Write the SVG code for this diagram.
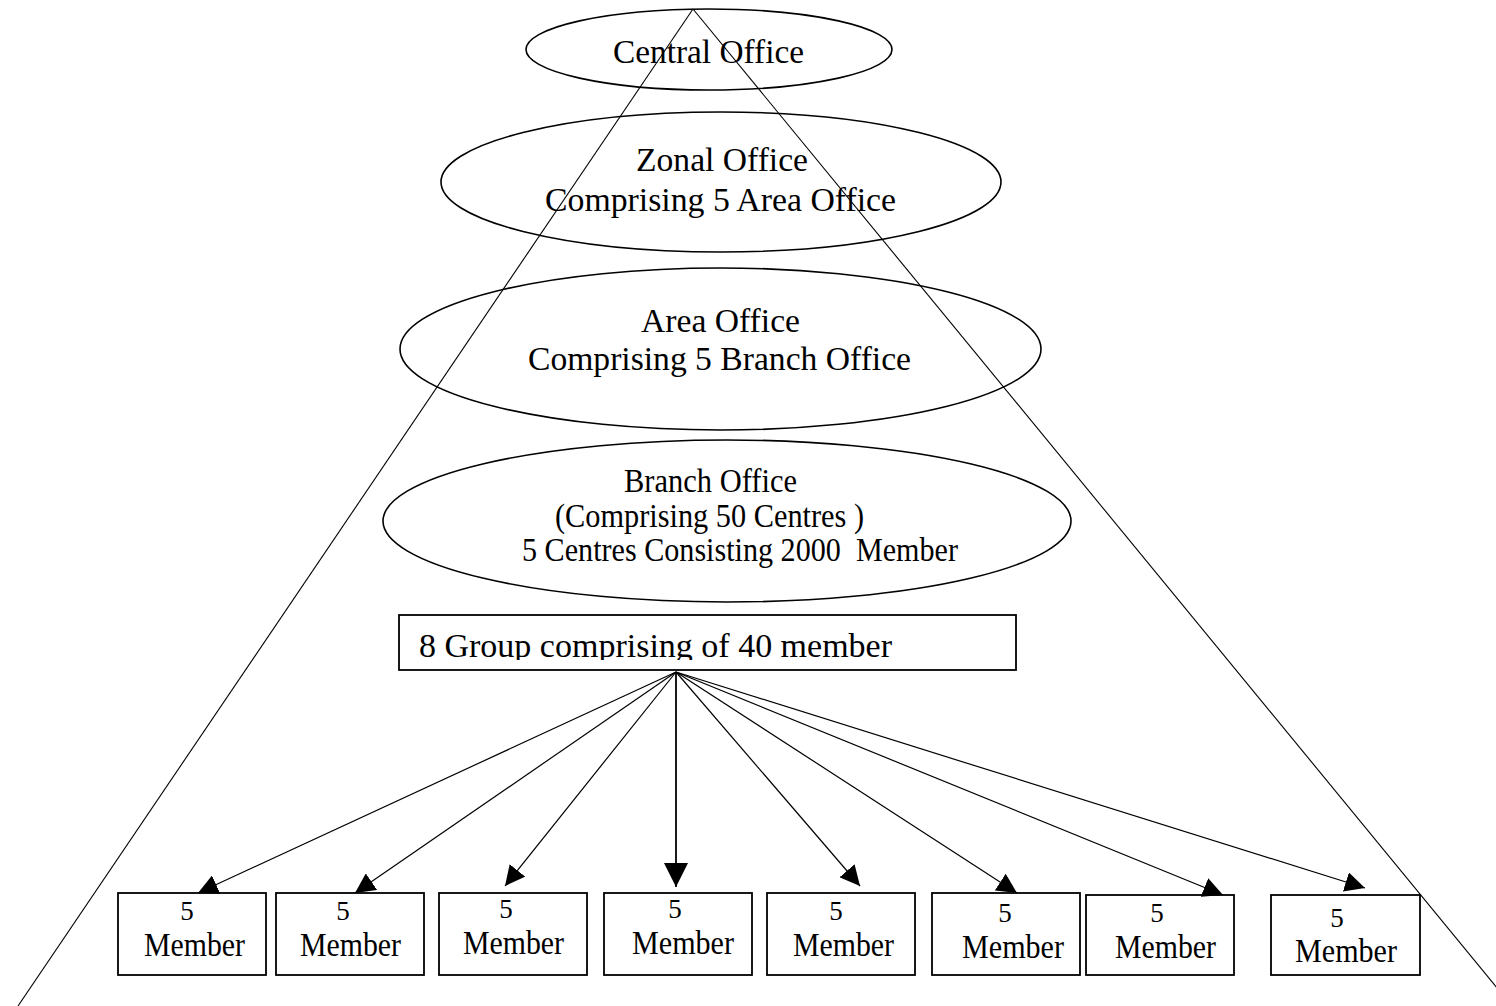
<svg xmlns="http://www.w3.org/2000/svg" width="1496" height="1006" viewBox="0 0 1496 1006">
  <style>
    .shape { fill: none; stroke: #000; stroke-width: 1.6; }
    .box { fill: #fff; stroke: #000; stroke-width: 1.8; }
    .guide { fill: none; stroke: #000; stroke-width: 1.1; }
    .link { fill: none; stroke: #000; stroke-width: 1.2; marker-end: url(#head); }
    .link.main { stroke-width: 1.8; marker-end: url(#headBig); }
    .lbl { font-family: "Liberation Serif", "Times New Roman", serif; font-size: 34px; fill: #000; }
    .mem { font-family: "Liberation Serif", "Times New Roman", serif; font-size: 33px; fill: #000; }
    .num { font-family: "Liberation Serif", "Times New Roman", serif; font-size: 27px; fill: #000; text-anchor: middle; }
  </style>
  <defs>
    <marker id="head" viewBox="0 0 20 20" refX="20" refY="10" markerWidth="20" markerHeight="20" markerUnits="userSpaceOnUse" orient="auto">
      <path d="M0,0 L20,10 L0,20 z" fill="#000"/>
    </marker>
    <marker id="headBig" viewBox="0 0 24 24" refX="24" refY="12" markerWidth="24" markerHeight="24" markerUnits="userSpaceOnUse" orient="auto">
      <path d="M0,0 L24,12 L0,24 z" fill="#000"/>
    </marker>
    <clipPath id="groupClip">
      <rect x="399" y="615" width="617" height="45"/>
    </clipPath>
  </defs>

  <rect width="1496" height="1006" fill="#fff"/>

  <!-- hierarchy levels -->
  <g id="central-office">
    <ellipse class="shape" cx="709" cy="49.5" rx="183" ry="40.5"/>
    <text class="lbl" x="613" y="63" textLength="191" lengthAdjust="spacingAndGlyphs">Central Office</text>
  </g>
  <g id="zonal-office">
    <ellipse class="shape" cx="721" cy="182" rx="280" ry="70"/>
    <text class="lbl" x="636" y="171" textLength="172" lengthAdjust="spacingAndGlyphs">Zonal Office</text>
    <text class="lbl" x="545" y="211" textLength="351" lengthAdjust="spacingAndGlyphs">Comprising 5 Area Office</text>
  </g>
  <g id="area-office">
    <ellipse class="shape" cx="720.5" cy="349" rx="320.5" ry="81"/>
    <text class="lbl" x="641" y="332" textLength="159" lengthAdjust="spacingAndGlyphs">Area Office</text>
    <text class="lbl" x="528" y="370" textLength="383" lengthAdjust="spacingAndGlyphs">Comprising 5 Branch Office</text>
  </g>
  <g id="branch-office">
    <ellipse class="shape" cx="727" cy="521" rx="344" ry="81"/>
    <text class="lbl" x="624" y="492" textLength="173" lengthAdjust="spacingAndGlyphs">Branch Office</text>
    <text class="lbl" x="555" y="527" textLength="309" lengthAdjust="spacingAndGlyphs">(Comprising 50 Centres )</text>
    <text class="lbl" x="522" y="561" textLength="436" lengthAdjust="spacingAndGlyphs" xml:space="preserve">5 Centres Consisting 2000  Member</text>
  </g>
  <g id="group">
    <rect class="box" x="399" y="615" width="617" height="55"/>
    <text class="lbl" x="419" y="657" textLength="473" lengthAdjust="spacingAndGlyphs" clip-path="url(#groupClip)">8 Group comprising of 40 member</text>
  </g>

  <!-- member boxes -->
  <g id="member-1">
    <rect class="box" x="118" y="893" width="148" height="82"/>
    <text class="num" x="187" y="920">5</text>
    <text class="mem" x="144" y="956" textLength="101" lengthAdjust="spacingAndGlyphs">Member</text>
  </g>
  <g id="member-2">
    <rect class="box" x="276" y="893" width="148" height="82"/>
    <text class="num" x="343" y="920">5</text>
    <text class="mem" x="300" y="956" textLength="101" lengthAdjust="spacingAndGlyphs">Member</text>
  </g>
  <g id="member-3">
    <rect class="box" x="439" y="893" width="148" height="82"/>
    <text class="num" x="506" y="918">5</text>
    <text class="mem" x="463" y="954" textLength="101" lengthAdjust="spacingAndGlyphs">Member</text>
  </g>
  <g id="member-4">
    <rect class="box" x="604" y="893" width="148" height="82"/>
    <text class="num" x="675" y="918">5</text>
    <text class="mem" x="632" y="954" textLength="102" lengthAdjust="spacingAndGlyphs">Member</text>
  </g>
  <g id="member-5">
    <rect class="box" x="767" y="893" width="148" height="82"/>
    <text class="num" x="836" y="920">5</text>
    <text class="mem" x="793" y="956" textLength="101" lengthAdjust="spacingAndGlyphs">Member</text>
  </g>
  <g id="member-6">
    <rect class="box" x="932" y="893" width="148" height="82"/>
    <text class="num" x="1005" y="922">5</text>
    <text class="mem" x="962" y="958" textLength="102" lengthAdjust="spacingAndGlyphs">Member</text>
  </g>
  <g id="member-7">
    <rect class="box" x="1086" y="895" width="148" height="80"/>
    <text class="num" x="1157" y="922">5</text>
    <text class="mem" x="1115" y="958" textLength="101" lengthAdjust="spacingAndGlyphs">Member</text>
  </g>
  <g id="member-8">
    <rect class="box" x="1271" y="895" width="149" height="80"/>
    <text class="num" x="1337" y="927">5</text>
    <text class="mem" x="1295" y="962" textLength="102" lengthAdjust="spacingAndGlyphs">Member</text>
  </g>

  <!-- connectors: outer pyramid and group-to-member arrows -->
  <g id="connectors">
    <line class="guide" x1="693" y1="9" x2="18" y2="1006"/>
    <line class="guide" x1="693" y1="9" x2="1512" y2="1006"/>
    <line class="link" x1="676" y1="672" x2="198" y2="893"/>
    <line class="link" x1="676" y1="672" x2="355" y2="893"/>
    <line class="link" x1="676" y1="672" x2="505" y2="886"/>
    <line class="link main" x1="676" y1="672" x2="676" y2="887"/>
    <line class="link" x1="676" y1="672" x2="860" y2="886"/>
    <line class="link" x1="676" y1="672" x2="1017" y2="893"/>
    <line class="link" x1="676" y1="672" x2="1223" y2="895"/>
    <line class="link" x1="676" y1="672" x2="1365" y2="888"/>
  </g>
</svg>
